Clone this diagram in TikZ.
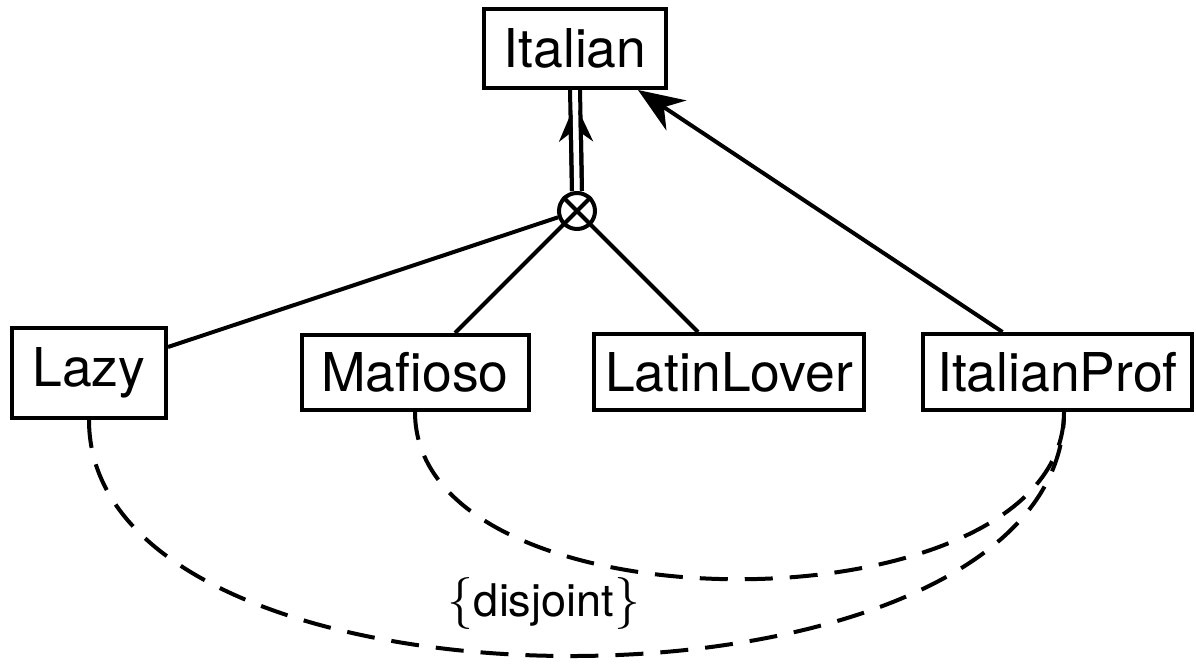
\documentclass[tikz,border=0pt]{standalone}
\usepackage{fontspec}
\setmainfont{TeX Gyre Heros}
\newfontfamily\bracefont{Latin Modern Roman}
\usetikzlibrary{arrows.meta}
\begin{document}
\begin{tikzpicture}[x=1pt,y=-1pt,
  cls/.style={draw, line width=4pt, inner sep=0pt, font=\fontsize{53.5}{60}\selectfont},
  link/.style={line width=4pt},
  constraint/.style={line width=4pt, dash pattern=on 28pt off 17pt},
]
\useasboundingbox (0,0) rectangle (1196,669);
% classes
\node[cls, minimum width=182pt, minimum height=79pt] (italian) at (575,48.5) {Italian};
\node[cls, minimum width=154pt, minimum height=90pt] (lazy) at (89,373) {Lazy};
\node[cls, minimum width=227pt, minimum height=75pt] (mafioso) at (415,372.5) {Mafioso};
\node[cls, minimum width=270pt, minimum height=76pt] (latin) at (729,372) {LatinLover};
\node[cls, minimum width=269pt, minimum height=76pt] (prof) at (1057.5,372) {ItalianProf};
% generalization set marker
\node[circle, draw, line width=4pt, minimum size=36pt, inner sep=0pt] (gs) at (577,211) {};
\draw[link] (gs.45) -- (gs.225) (gs.135) -- (gs.-45);
% double line up to the superclass
\draw[link] ([xshift=-5pt]gs.north) -- ([xshift=-5pt]italian.south);
\draw[link] ([xshift=5pt]gs.north) -- ([xshift=5pt]italian.south);
\draw[link, -{Stealth[left, length=27pt, width=24pt]}, shorten >=20pt]
  ([xshift=-5pt]gs.north) -- ([xshift=-5pt]italian.south);
\draw[link, -{Stealth[right, length=27pt, width=24pt]}, shorten >=20pt]
  ([xshift=5pt]gs.north) -- ([xshift=5pt]italian.south);
% subclasses
\draw[link] ([yshift=26pt]lazy.east) -- (gs);
\draw[link] ([xshift=40pt]mafioso.north) -- (gs);
\draw[link] ([xshift=-31pt]latin.north) -- (gs);
\draw[link, -{Stealth[length=46pt, width=36pt]}]
  ([xshift=-55pt]prof.north) -- ([xshift=63pt]italian.south);
% disjoint constraint
\draw[constraint] (lazy.south) .. controls +(0,317) and +(0,323) .. ([xshift=6.5pt]prof.south);
\draw[constraint] (mafioso.south) .. controls +(0,224) and +(0,222) .. ([xshift=6.5pt]prof.south);
\node[font=\fontsize{45}{50}\selectfont, inner sep=0pt] (dj) at (544,603)
  {{\bracefont\fontsize{52}{56}\selectfont\{}disjoint{\bracefont\fontsize{52}{56}\selectfont\}}};
\end{tikzpicture}
\end{document}
